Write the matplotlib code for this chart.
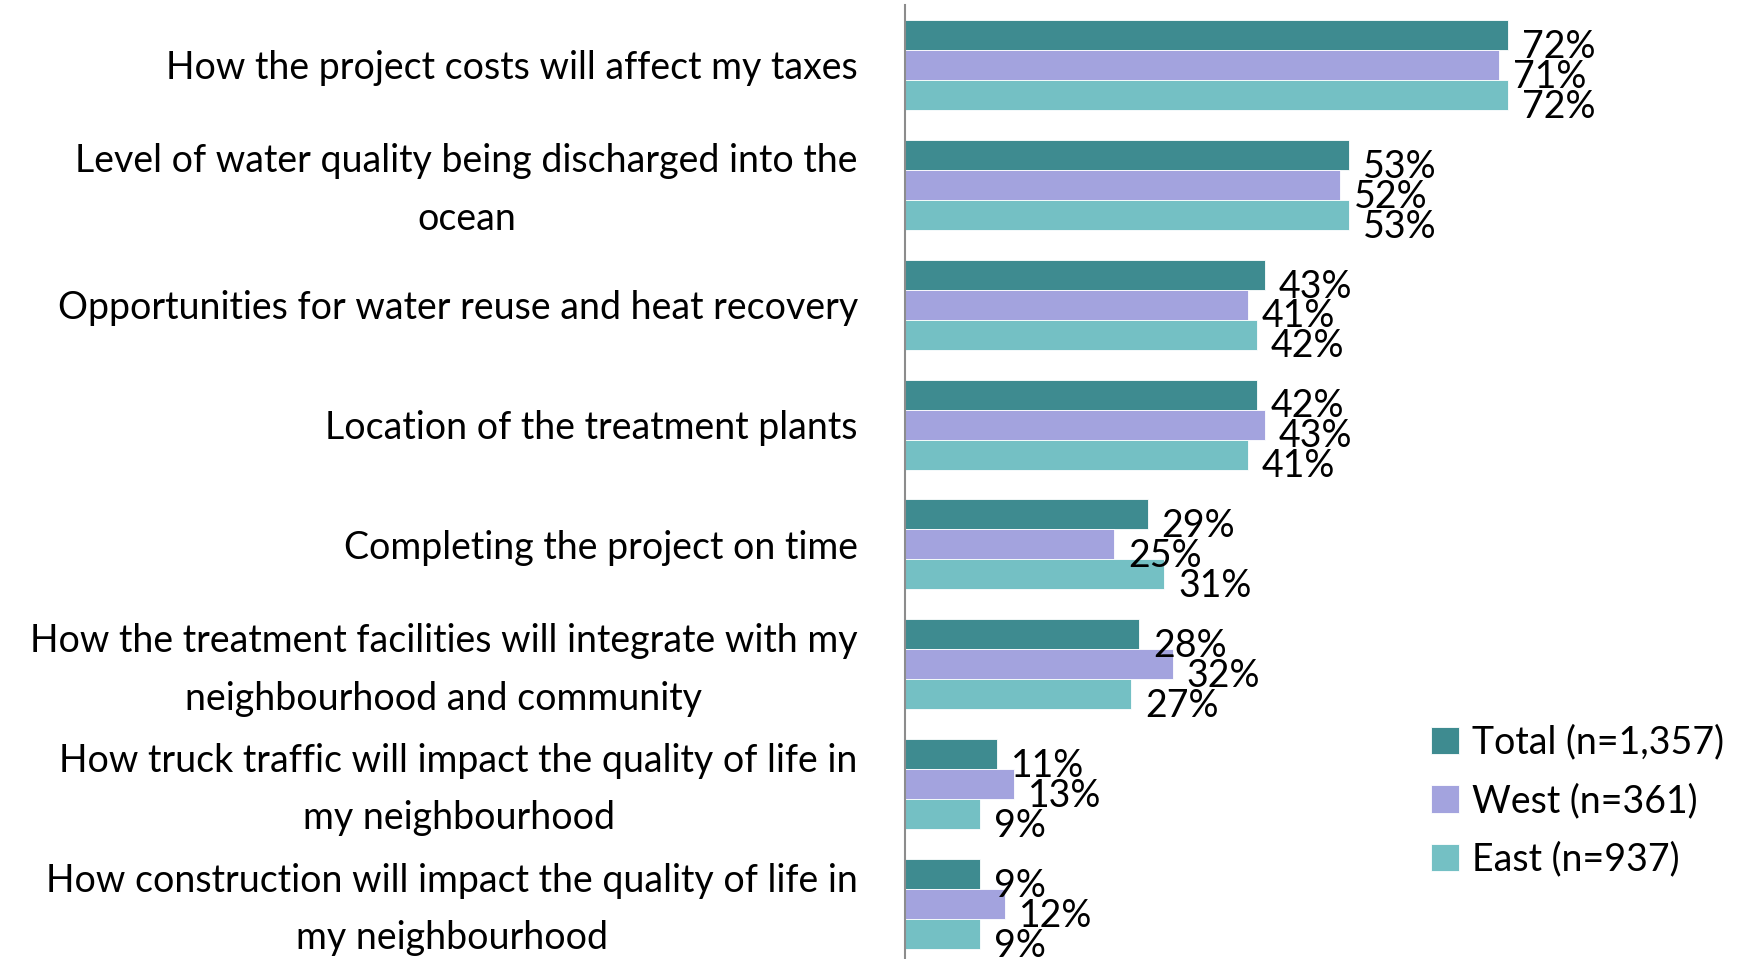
import matplotlib
matplotlib.use("Agg")
import matplotlib.pyplot as plt
import matplotlib.transforms as mtransforms
import numpy as np

# ===== data
categories = [
    "How the project costs will affect my taxes",
    "Level of water quality being discharged into the\nocean",
    "Opportunities for water reuse and heat recovery",
    "Location of the treatment plants",
    "Completing the project on time",
    "How the treatment facilities will integrate with my\nneighbourhood and community",
    "How truck traffic will impact the quality of life in\nmy neighbourhood",
    "How construction will impact the quality of life in\nmy neighbourhood",
]
total = [72, 53, 43, 42, 29, 28, 11, 9]
west = [71, 52, 41, 43, 25, 32, 13, 12]
east = [72, 53, 42, 41, 31, 27, 9, 9]
series_names = ["Total (n=1,357)", "West (n=361)", "East (n=937)"]
colors = ["#3e8b90", "#a3a3de", "#74c0c4"]

plt.rcParams["font.family"] = ["Lato", "DejaVu Sans"]

W, H = 1741, 959
fig = plt.figure(figsize=(W / 100, H / 100), dpi=100)
ax = fig.add_axes([905 / W, -5 / H, 837 / W, 959 / H])

y = np.arange(len(categories))
h = 0.25
for k, (vals, c, name) in enumerate(zip([total, west, east], colors, series_names)):
    pos = y - h + k * h
    ax.barh(pos, vals, height=h, color=c, label=name, edgecolor="white", linewidth=0.6)
    for p, v in zip(pos, vals):
        ax.annotate(f"{v}%", (v, p), xytext=(10, -8.5), textcoords="offset points",
                    ha="left", va="center", fontsize=27, color="black")

ax.set_xlim(0, 100)
ax.set_ylim(len(categories) - 0.5, -0.5)
ax.set_yticks(y)
ax.set_yticklabels(categories, fontsize=27, multialignment="center",
                   linespacing=1.75)
ax.tick_params(axis="y", length=0, pad=34)
# 2行ラベルは少し上に寄せる
shift = mtransforms.ScaledTranslation(0, 6.5 / 72, fig.dpi_scale_trans)
for lbl in ax.get_yticklabels():
    if "\n" in lbl.get_text():
        lbl.set_transform(lbl.get_transform() + shift)
ax.set_xticks([])
for s in ["top", "right", "bottom"]:
    ax.spines[s].set_visible(False)
ax.spines["left"].set_color("#8c8c8c")
ax.spines["left"].set_linewidth(1.5)

leg = ax.legend(loc="upper left", bbox_to_anchor=(492 / 837, 0.285), frameon=False,
                fontsize=27, handlelength=0.75, handleheight=0.75,
                handletextpad=0.35, labelspacing=0.6)

fig.savefig("out.png", dpi=100)
